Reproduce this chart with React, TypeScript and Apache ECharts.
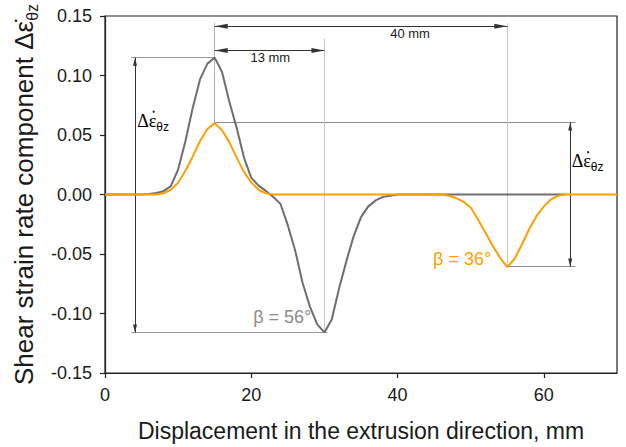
import React, { useEffect, useRef } from "react";
import * as echarts from "echarts";

// Displacement along the extrusion direction, mm (sample positions)
const displacement = [
  0, 1, 2, 3, 4, 5, 6, 7, 8, 9, 10, 11, 12, 13, 14, 15, 16, 17, 18, 19, 20,
  21, 22, 23, 24, 25, 26, 27, 28, 29, 30, 31, 32, 33, 34, 35, 36, 37, 38, 39, 40,
  41, 42, 43, 44, 45, 46, 47, 48, 49, 50, 51, 52, 53, 54, 55, 56, 57, 58, 59, 60,
  61, 62, 63, 64, 65, 66, 67, 68, 69, 70,
];

// beta = 56 deg (grey), x = 0 .. 63
const strain56 = [
  0, 0, 0, 0, 0, 0, 0.0005, 0.0012, 0.0028, 0.007, 0.021, 0.045, 0.073, 0.097, 0.11, 0.115,
  0.103, 0.078, 0.056, 0.031, 0.014, 0.0075, 0.003, -0.002, -0.008, -0.026, -0.047, -0.074,
  -0.094, -0.109, -0.116, -0.105, -0.079, -0.056, -0.035, -0.019, -0.01, -0.005, -0.002, -0.001,
  0, 0, 0, 0, 0, 0, 0, 0, 0, 0, 0, 0, 0, 0, 0, 0, 0, 0, 0, 0, 0, 0, 0, 0,
];

// beta = 36 deg (orange), x = 0 .. 70
const strain36 = [
  0, 0, 0, 0, 0, 0, 0, 0, 0.001, 0.004, 0.01, 0.02, 0.032, 0.045, 0.055, 0.06,
  0.054, 0.044, 0.031, 0.019, 0.01, 0.004, 0.001,
  0, 0, 0, 0, 0, 0, 0, 0, 0, 0, 0, 0, 0, 0, 0, 0, 0, 0, 0, 0, 0, 0, 0, 0,
  -0.001, -0.003, -0.006, -0.011, -0.021, -0.032, -0.043, -0.053, -0.061, -0.054, -0.042,
  -0.029, -0.018, -0.01, -0.004, -0.001, 0, 0, 0, 0, 0, 0, 0, 0,
];

const xTicks = [0, 20, 40, 60];
const seriesLabels = ["β = 56°", "β = 36°"];
const distanceLabels = ["13 mm", "40 mm"];

const X_MIN = 0;
const X_MAX = 70;
const Y_MIN = -0.15;
const Y_MAX = 0.15;

const GREY = "#6e6e6e";
const ORANGE = "#ffa000";
const ARROW = "path://M0,0L0,0M0,12L3,24L-3,24Z";
const SANS = "Liberation Sans, Arial, sans-serif";
const SERIF = "Liberation Serif, Times New Roman, serif";

function guide(a: number[], b: number[], color: string) {
  return [
    { coord: a, symbol: "none", lineStyle: { color, width: 1, type: "solid" } },
    { coord: b, symbol: "none" },
  ];
}
function arrow(a: number[], b: number[], size: number[]) {
  return [
    { coord: a, symbol: ARROW, symbolSize: size, lineStyle: { color: "#333", width: 1, type: "solid" } },
    { coord: b, symbol: ARROW, symbolSize: size },
  ];
}

export default function App() {
  const ref = useRef<HTMLDivElement>(null);
  useEffect(() => {
    if (!ref.current) return;
    const chart = echarts.init(ref.current, undefined, { renderer: "svg" });
    const option: any = {
      animation: false,
      grid: {
        left: 105, right: 9, top: 16, bottom: 72,
        show: true, borderColor: "#222", borderWidth: 1.2, backgroundColor: "transparent",
      },
      xAxis: {
        type: "value", min: X_MIN, max: X_MAX, interval: 20,
        name: "Displacement in the extrusion direction, mm",
        nameLocation: "middle", nameGap: 46,
        nameTextStyle: { fontSize: 23, color: "#1a1a1a", fontFamily: SANS },
        axisLine: { show: true, onZero: false, lineStyle: { color: "#222", width: 1.2 } },
        axisTick: { show: true, length: 5, customValues: xTicks, lineStyle: { color: "#222", width: 1.2 } },
        axisLabel: {
          customValues: [...xTicks, X_MAX],
          showMaxLabel: false,
          fontSize: 18, color: "#1a1a1a", fontFamily: SANS, margin: 13,
        },
        splitLine: { show: false },
      },
      yAxis: {
        type: "value", min: Y_MIN, max: Y_MAX, interval: 0.05,
        name: "Shear strain rate component {d|Δε̇}{s|θz}",
        nameLocation: "middle", nameGap: 60, nameRotate: 90,
        nameTextStyle: {
          fontSize: 26, color: "#1a1a1a", fontFamily: SANS, lineHeight: 32,
          rich: {
            d: { fontSize: 26, fontFamily: SANS, color: "#1a1a1a", lineHeight: 32 },
            s: { fontSize: 16, fontFamily: SANS, color: "#1a1a1a", lineHeight: 20, verticalAlign: "bottom" },
          },
        },
        axisLine: { show: true, onZero: false, lineStyle: { color: "#222", width: 1.2 } },
        axisTick: { show: true, length: 5, lineStyle: { color: "#222", width: 1.2 } },
        axisLabel: {
          fontSize: 18, color: "#1a1a1a", fontFamily: SANS, margin: 13,
          formatter: (v: number) => (Math.abs(v) < 1e-9 ? 0 : v).toFixed(2),
        },
        splitLine: { show: false },
      },
      series: [
        {
          name: seriesLabels[0],
          type: "line",
          data: strain56.map((v, i) => [displacement[i], v]),
          showSymbol: false,
          lineStyle: { color: GREY, width: 2 },
          itemStyle: { color: GREY },
          z: 3,
          markLine: {
            silent: true,
            animation: false,
            label: { show: false },
            z: 1,
            data: [
              guide([3.6, 0.115], [15, 0.115], "#9a9a9a"),
              guide([3.6, -0.116], [30.4, -0.116], "#9a9a9a"),
              guide([15, 0.144], [15, 0.06], "#b0b0b0"),
              guide([15, 0.0605], [64.3, 0.0605], "#8a8a8a"),
              guide([55, -0.0605], [64.3, -0.0605], "#8a8a8a"),
              guide([30, 0.131], [30, -0.116], "#c8c8c8"),
              guide([55, 0.144], [55, -0.0605], "#c8c8c8"),
              arrow([4.1, 0.115], [4.1, -0.116], [4, 16]),
              arrow([63.6, 0.0605], [63.6, -0.0605], [4, 16]),
              arrow([15, 0.121], [30, 0.121], [5, 26]),
              arrow([15, 0.1413], [55, 0.1413], [5, 26]),
            ],
          },
        },
        {
          name: seriesLabels[1],
          type: "line",
          data: strain36.map((v, i) => [displacement[i], v]),
          showSymbol: false,
          lineStyle: { color: ORANGE, width: 2 },
          itemStyle: { color: ORANGE },
          z: 4,
        },
      ],
    };
    chart.setOption(option);

    const px = (x: number, y: number) =>
      chart.convertToPixel({ xAxisIndex: 0, yAxisIndex: 0 }, [x, y]) as number[];
    const deltaRich = {
      d: { fontSize: 18, fontFamily: SERIF, color: "#1a1a1a", lineHeight: 24 },
      s: { fontSize: 12, fontFamily: SANS, color: "#1a1a1a", lineHeight: 14, verticalAlign: "bottom" },
    };
    const txt = (pos: number[], text: string, align: string, style: any, vAlign = "middle") => ({
      type: "text", x: pos[0], y: pos[1], z: 10,
      style: { text, align, verticalAlign: vAlign, ...style },
    });
    // Δε with a dot placed over the ε, subscript θz
    const deltaLabel = (pos: number[]) => ({
      type: "group", x: pos[0], y: pos[1], z: 10,
      children: [
        { type: "text", z: 10, style: { text: "{d|Δε}{s|θz}", align: "left", verticalAlign: "middle", rich: deltaRich } },
        { type: "circle", z: 10, shape: { cx: 16.5, cy: -9, r: 1.1 }, style: { fill: "#1a1a1a" } },
      ],
    });
    // blank out the area below the right end of the axis (the reference has no label at the axis end)
    const corner = px(X_MAX, Y_MIN);
    chart.setOption({
      graphic: [
        {
          type: "rect", z: 100,
          shape: { x: corner[0] - 14, y: corner[1] + 6, width: 30, height: 26 },
          style: { fill: "#ffffff" },
        },
        txt(px(22.6, 0.1151), distanceLabels[0], "center", { fontSize: 13, fontFamily: SANS, fill: "#1a1a1a" }),
        txt(px(41.7, 0.135), distanceLabels[1], "center", { fontSize: 13, fontFamily: SANS, fill: "#1a1a1a" }),
        txt(px(28.2, -0.103), seriesLabels[0], "right", { fontSize: 18, fontFamily: SANS, fill: "#8c8c8c" }),
        txt(px(52.8, -0.054), seriesLabels[1], "right", { fontSize: 18, fontFamily: SANS, fill: ORANGE }),
        deltaLabel(px(4.4, 0.062)),
        deltaLabel(px(63.8, 0.028)),
      ],
    });
    return () => chart.dispose();
  }, []);
  return (
    <div
      ref={ref}
      style={{ position: "fixed", left: 0, top: 0, width: 626, height: 447, background: "#fff" }}
    />
  );
}
